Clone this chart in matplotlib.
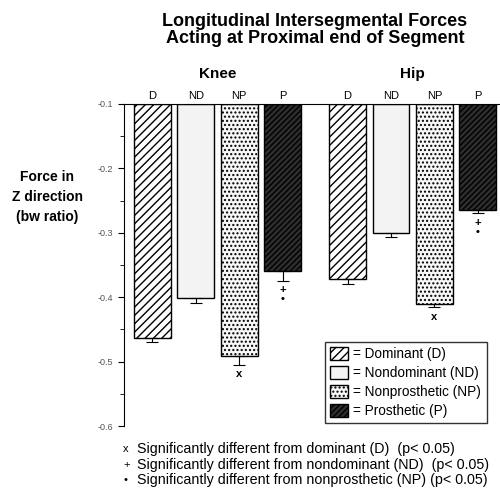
import numpy as np
import matplotlib.pyplot as plt
from matplotlib.patches import Patch

plt.rcParams['font.family'] = ['Liberation Sans', 'DejaVu Sans']
plt.rcParams['hatch.linewidth'] = 1.0

joints = ["Knee", "Hip"]
cats = ["D", "ND", "NP", "P"]
knee = [-0.463, -0.402, -0.491, -0.360]
hip = [-0.372, -0.300, -0.411, -0.264]
knee_err = [0.006, 0.007, 0.014, 0.015]
hip_err = [0.008, 0.006, 0.005, 0.006]
knee_sig = ["", "", "x", "+\n•"]
hip_sig = ["", "", "x", "+\n•"]
legend_names = ["Dominant (D)", "Nondominant (ND)", "Nonprosthetic (NP)", "Prosthetic (P)"]
notes = [("x", "Significantly different from dominant (D)  (p< 0.05)"),
         ("+", "Significantly different from nondominant (ND)  (p< 0.05)"),
         ("•", "Significantly different from nonprosthetic (NP) (p< 0.05)")]

styles = [dict(facecolor="white", hatch="////"),
          dict(facecolor="#f3f3f3", hatch=""),
          dict(facecolor="#f7f7f7", hatch="...."),
          dict(facecolor="#2e2e2e", hatch="//////")]

fig = plt.figure(figsize=(5, 4.88), dpi=100)
ax = fig.add_axes([0.248, 0.127, 0.75, 0.66])

values = [knee, hip]
errs = [knee_err, hip_err]
sigs = [knee_sig, hip_sig]
xs_all = []
for g in range(len(joints)):
    xs = [g * 4.5 + i for i in range(len(cats))]
    xs_all += xs
    for i, x in enumerate(xs):
        v = values[g][i]
        ax.bar(x, v + 0.1, bottom=-0.1, width=0.85, edgecolor="black",
               linewidth=1.0, **styles[i])
        ax.errorbar(x, v, yerr=[[errs[g][i]], [0]], fmt="none", ecolor="black",
                    elinewidth=0.8, capsize=4.5, capthick=0.8)
        if sigs[g][i]:
            ax.annotate(sigs[g][i], (x, v - errs[g][i]), xytext=(0, -3),
                        textcoords="offset points", ha="center", va="top",
                        fontsize=8, fontweight="bold", linespacing=0.9)
    ax.text(np.mean(xs), 1.07, joints[g], transform=ax.get_xaxis_transform(),
            ha="center", va="bottom", fontsize=11, fontweight="bold")

ax.set_ylim(-0.6, -0.1)
ax.set_xlim(-0.655, 7.99)
ax.set_yticks([-0.1, -0.2, -0.3, -0.4, -0.5, -0.6])
ax.set_yticklabels(["-0.1", "-0.2", "-0.3", "-0.4", "-0.5", "-0.6"])
ax.set_yticks([-0.15, -0.25, -0.35, -0.45, -0.55], minor=True)
ax.tick_params(axis="y", labelsize=6.5, labelcolor="#555555", length=4, direction="out")
ax.tick_params(axis="y", which="minor", length=3)
ax.xaxis.tick_top()
ax.set_xticks(xs_all)
ax.set_xticklabels(cats * 2, fontsize=8)
ax.tick_params(axis="x", length=0, pad=2)
ax.spines["right"].set_visible(False)
ax.spines["bottom"].set_visible(False)

ax.set_ylabel("Force in\nZ direction\n(bw ratio)", rotation=0, fontsize=10,
              fontweight="bold", linespacing=1.55, ha="center", va="center")
ax.yaxis.set_label_coords(-0.205, 0.711)

fig.text(0.63, 0.974, "Longitudinal Intersegmental Forces\nActing at Proximal end of Segment",
         ha="center", va="top", fontsize=13, fontweight="bold", linespacing=1.05)

handles = [Patch(edgecolor="black", linewidth=1.0, **s) for s in styles]
leg = fig.legend(handles, ["= " + n for n in legend_names], loc="upper left",
                 bbox_to_anchor=(0.636, 0.314), fontsize=9.8, frameon=True,
                 fancybox=False, edgecolor="black", handlelength=1.3,
                 handleheight=1.1, handletextpad=0.4, labelspacing=0.35,
                 borderpad=0.4)
leg.get_frame().set_linewidth(1.0)

for k, (sym, txt) in enumerate(notes):
    y = 0.08 - k * 0.032
    fig.text(0.246, y, sym, ha="left", va="center", fontsize=8)
    fig.text(0.274, y, txt, ha="left", va="center", fontsize=10.3)

fig.savefig("out.png", dpi=100)
